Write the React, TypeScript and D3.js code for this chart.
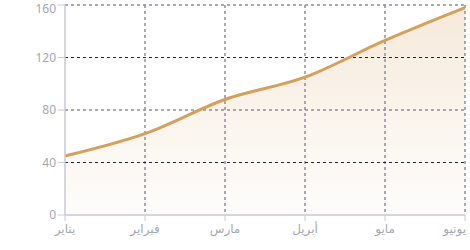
import React from "react";
import * as d3 from "d3";

const months = ["يناير", "فبراير", "مارس", "أبريل", "مايو", "يونيو"];
const values = [45, 62, 88, 105, 133, 158];
const yTicks = [0, 40, 80, 120, 160];

const W = 470, H = 250;
const M = { left: 65, right: 5, top: 5, bottom: 35 };

export default function App() {
  const x = d3.scalePoint<string>().domain(months).range([M.left, W - M.right]);
  const y = d3.scaleLinear().domain([0, 160]).range([H - M.bottom, M.top]);
  const data = months.map((m, i) => ({ m, v: values[i] }));
  const line = d3.line<any>().x(d => x(d.m)!).y(d => y(d.v)).curve(d3.curveMonotoneX);
  const area = d3.area<any>().x(d => x(d.m)!).y0(y(0)).y1(d => y(d.v)).curve(d3.curveMonotoneX);
  const font = "'Noto Sans', 'DejaVu Sans', sans-serif";
  return (
    <svg width={W} height={H} style={{ position: "absolute", left: 0, top: 0 }}>
      <defs>
        <linearGradient id="g" x1="0" y1="0" x2="0" y2="1">
          <stop offset="0%" stopColor="#d4a05a" stopOpacity={0.22} />
          <stop offset="100%" stopColor="#d4a05a" stopOpacity={0.02} />
        </linearGradient>
      </defs>
      <path d={area(data) || ""} fill="url(#g)" />
      {months.slice(1).map(m => (
        <line key={m} x1={x(m)} x2={x(m)} y1={y(160)} y2={y(0)} stroke="#8a8f9b" strokeWidth={1.5} strokeDasharray="3,3" />
      ))}
      {yTicks.slice(1).map(t => {
        const dark = t === 120 || t === 40;
        return (
          <line key={t} x1={M.left} x2={W - M.right} y1={y(t)} y2={y(t)}
            stroke={dark ? "#1f2637" : "#8a8f9b"} strokeWidth={dark ? 1 : 1.5}
            strokeDasharray="3,3" />
        );
      })}
      <path d={line(data) || ""} fill="none" stroke="#d4a05a" strokeWidth={3} />
      <line x1={M.left} x2={M.left} y1={M.top} y2={y(0)} stroke="#c8cad3" strokeWidth={1.5} />
      <line x1={M.left} x2={W - M.right} y1={y(0)} y2={y(0)} stroke="#c8cad3" strokeWidth={1.5} />
      {yTicks.map(t => (
        <g key={t}>
          <line x1={M.left - 7} x2={M.left} y1={y(t)} y2={y(t)} stroke="#c8cad3" strokeWidth={1} />
          <text x={M.left - 9} y={Math.max(y(t), 9)} dy="0.35em" textAnchor="end" fontSize={12} fill="#a3a7b2" fontFamily={font}>{t}</text>
        </g>
      ))}
      {months.map((m, i) => (
        <g key={m}>
          <line x1={x(m)} x2={x(m)} y1={y(0)} y2={y(0) + 6} stroke="#c8cad3" strokeWidth={1} />
          <text x={i === months.length - 1 ? x(m)! + 1 : x(m)} y={y(0) + 18}
            textAnchor={i === months.length - 1 ? "end" : "middle"} fontSize={12} fill="#a3a7b2" fontFamily={font}>{m}</text>
        </g>
      ))}
    </svg>
  );
}
